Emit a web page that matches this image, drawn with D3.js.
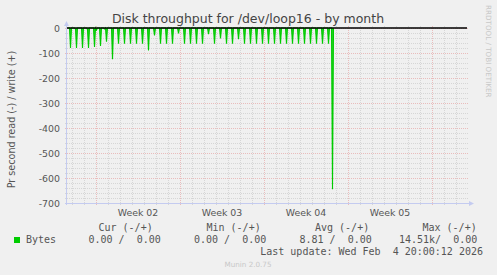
<!DOCTYPE html>
<html><head><meta charset="utf-8">
<script src="https://cdn.jsdelivr.net/npm/d3@7"></script>
<style>
html,body{margin:0;padding:0;background:#f0f0f0;}
svg{display:block;}
text{white-space:pre;}
</style></head>
<body>
<script>
// ---------------- data ----------------
const title = "Disk throughput for /dev/loop16 - by month";
const yAxisTitle = "Pr second read (-) / write (+)";
const startUTC = Date.UTC(2026, 0, 2, 14, 0);   // first sample
const stepHours = 2;                             // RRD resolution
const windowSamples = 400;
// read bytes/s per 2h sample (plotted negative)
const readValues = [
  0,0,0,80,0,0,   0,0,4,80,0,0,   0,0,0,80,0,0,   0,0,6,80,0,0,
  0,0,0,76,0,8,   0,0,0,72,0,0,   0,4,0,55,0,0,   0,0,0,125,0,0,
  0,0,0,63,0,0,   0,0,0,63,0,0,   0,0,0,63,0,0,   0,0,0,63,0,0,
  0,0,0,63,0,0,   0,0,0,90,0,0,   0,0,0,30,0,0,   0,0,0,63,0,0,
  0,0,0,63,0,0,   0,0,0,63,0,0,   0,0,0,22,0,0,   0,0,0,63,0,0,
  0,0,0,63,0,0,   0,0,0,63,0,0,   0,0,0,63,0,0,   0,0,0,25,0,0,
  0,0,0,63,0,0,   0,0,0,42,0,0,   0,0,0,63,0,0,   0,0,0,63,0,0,
  0,0,0,45,0,0,   0,0,0,63,0,0,   0,0,0,63,0,0,   0,0,0,63,0,0,
  0,0,0,63,0,0,   0,0,0,63,0,0,   0,0,0,63,0,0,   0,0,0,63,0,0,
  0,0,0,63,0,0,   0,0,0,63,0,0,   0,0,0,63,0,0,   0,0,0,63,0,0,
  0,0,0,63,0,0,   0,0,0,63,0,0,   0,0,0,63,0,0,   0,0,0,63,0,0,
  0,645,0
];
const writeValue = 0;
const yTicks = [0,-100,-200,-300,-400,-500,-600,-700];
const weekStarts = [Date.UTC(2026,0,5), Date.UTC(2026,0,12), Date.UTC(2026,0,19), Date.UTC(2026,0,26), Date.UTC(2026,1,2)];
const weekLabels = ["Week 02","Week 03","Week 04","Week 05"];
const legendHeaders = ["Cur (-/+)","Min (-/+)","Avg (-/+)","Max (-/+)"];
const seriesName = "Bytes";
const legendValues = ["0.00 /  0.00","0.00 /  0.00","8.81 /  0.00","14.51k/  0.00"];
const lastUpdate = "Last update: Wed Feb  4 20:00:12 2026";
const footer = "Munin 2.0.75";
const watermark = "RRDTOOL / TOBI OETIKER";

// ---------------- layout ----------------
const W = 497, H = 275;
const L = 67, R = 467, T = 28, B = 203;
const green = "#00cc00";
const axisCol = "#c4cbf0";

const svg = d3.select("body").append("svg").attr("width", W).attr("height", H);
svg.append("rect").attr("width", W).attr("height", H).attr("fill", "#f0f0f0");

const x = d3.scaleUtc()
  .domain([new Date(startUTC), new Date(startUTC + windowSamples * stepHours * 3600e3)])
  .range([L, R]);
const y = d3.scaleLinear().domain([-700, 0]).range([B, T]);

// grid
const g = svg.append("g");
const days = d3.utcDay.range(x.domain()[0], x.domain()[1]);
const majorDays = new Set(weekStarts);
days.forEach(d => {
  const px = Math.round(x(d)) + 0.5;
  const major = majorDays.has(+d);
  g.append("line").attr("x1", px).attr("x2", px).attr("y1", T - 2).attr("y2", B + 3)
    .attr("stroke", major ? "#e9bcbc" : "#d6d6d6").attr("stroke-dasharray", "1,1");
});
d3.range(-700, 1, 20).forEach(v => {
  const py = Math.round(y(v)) + 0.5;
  const major = v % 100 === 0;
  g.append("line").attr("x1", L - 2).attr("x2", R + 2).attr("y1", py).attr("y2", py)
    .attr("stroke", major ? "#e9bcbc" : "#d6d6d6").attr("stroke-dasharray", "1,1");
});

// axes
svg.append("line").attr("x1", L - 0.5).attr("x2", L - 0.5).attr("y1", B + 2).attr("y2", T - 4)
  .attr("stroke", axisCol);
svg.append("path").attr("d", `M${L-3},${T-2}L${L+2},${T-2}L${L-0.5},${T-7}Z`).attr("fill", axisCol);
svg.append("line").attr("x1", L - 2).attr("x2", R + 4).attr("y1", B + 0.5).attr("y2", B + 0.5)
  .attr("stroke", axisCol);
svg.append("path").attr("d", `M${R+2},${B-2}L${R+2},${B+3}L${R+7},${B+0.5}Z`).attr("fill", axisCol);

// data
const pts = readValues.map((v, i) => [new Date(startUTC + i * stepHours * 3600e3), -v]);
const area = d3.area().x(d => x(d[0]) + 0.5).y0(y(0)).y1(d => y(d[1]));
const line = d3.line().x(d => x(d[0]) + 0.5).y(d => y(d[1]));
svg.append("path").datum(pts).attr("d", area).attr("fill", green).attr("fill-opacity", 0.85);
svg.append("path").datum(pts).attr("d", line).attr("fill", "none")
  .attr("stroke", green).attr("stroke-width", 1.1);

// zero rule
svg.append("line").attr("x1", L).attr("x2", R).attr("y1", y(writeValue)).attr("y2", y(writeValue))
  .attr("stroke", "#000").attr("stroke-width", 1.4);

// y tick labels
svg.append("g").selectAll("text").data(yTicks).join("text")
  .attr("x", 60).attr("y", d => y(d) + 3.5).attr("text-anchor", "end")
  .attr("font-family", "DejaVu Sans").attr("font-size", 9.4).attr("fill", "#555")
  .text(d => d);

// x labels
svg.append("g").selectAll("text").data(weekLabels).join("text")
  .attr("x", (d, i) => (x(new Date(weekStarts[i])) + x(new Date(weekStarts[i + 1]))) / 2)
  .attr("y", 216).attr("text-anchor", "middle")
  .attr("font-family", "DejaVu Sans").attr("font-size", 9.4).attr("fill", "#555")
  .text(d => d);

// title
svg.append("text").attr("x", 248).attr("y", 23).attr("text-anchor", "middle")
  .attr("font-family", "DejaVu Sans").attr("font-size", 12.5).attr("fill", "#444").text(title);

// y axis title
svg.append("text").attr("transform", `translate(15,${(T + B) / 2 + 4}) rotate(-90)`)
  .attr("text-anchor", "middle").attr("font-family", "DejaVu Sans").attr("font-size", 9.6)
  .attr("fill", "#555").text(yAxisTitle);

// watermark
svg.append("text").attr("transform", "translate(485.5,5) rotate(90)")
  .attr("font-family", "DejaVu Sans").attr("font-size", 7.2).attr("fill", "#c8c8c8").text(watermark);

// legend
const mono = "DejaVu Sans Mono";
const headX = [98.5, 206.5, 315, 422.5];
svg.append("g").selectAll("text").data(legendHeaders).join("text")
  .attr("x", (d, i) => headX[i]).attr("y", 231).attr("font-family", mono).attr("font-size", 10)
  .attr("fill", "#555").text(d => d);
svg.append("rect").attr("x", 14).attr("y", 237).attr("width", 6).attr("height", 6).attr("fill", green);
svg.append("text").attr("x", 26).attr("y", 243).attr("font-family", mono).attr("font-size", 10)
  .attr("fill", "#555").text(seriesName);
const valX = [88.5, 194, 299.5, 399];
svg.append("g").selectAll("text").data(legendValues).join("text")
  .attr("x", (d, i) => valX[i]).attr("y", 243).attr("font-family", mono).attr("font-size", 10)
  .attr("fill", "#555").text(d => d);
svg.append("text").attr("x", 483).attr("y", 255).attr("text-anchor", "end")
  .attr("font-family", mono).attr("font-size", 10).attr("fill", "#555").text(lastUpdate);
svg.append("text").attr("x", 248).attr("y", 267).attr("text-anchor", "middle")
  .attr("font-family", "DejaVu Sans").attr("font-size", 7.2).attr("fill", "#c8c8c8").text(footer);
</script>
</body></html>
